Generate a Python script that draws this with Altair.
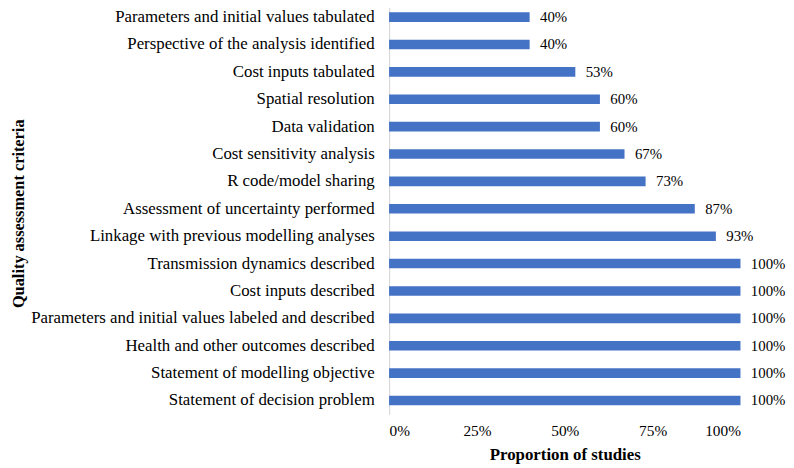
import altair as alt
import pandas as pd

criteria = [
    "Parameters and initial values tabulated",
    "Perspective of the analysis identified",
    "Cost inputs tabulated",
    "Spatial resolution",
    "Data validation",
    "Cost sensitivity analysis",
    "R code/model sharing",
    "Assessment of uncertainty performed",
    "Linkage with previous modelling analyses",
    "Transmission dynamics described",
    "Cost inputs described",
    "Parameters and initial values labeled and described",
    "Health and other outcomes described",
    "Statement of modelling objective",
    "Statement of decision problem",
]
percent = [40, 40, 53, 60, 60, 67, 73, 87, 93, 100, 100, 100, 100, 100, 100]
x_ticks = [0, 0.25, 0.5, 0.75, 1.0]

df = pd.DataFrame({"criterion": criteria, "share": [p / 100 for p in percent]})

FONT = "'Liberation Serif', 'Times New Roman', Times, serif"

y_enc = alt.Y(
    "criterion:N",
    sort=criteria,
    scale=alt.Scale(range=[-7, 408], paddingInner=0.65, paddingOuter=0.325),
    axis=alt.Axis(
        title="Quality assessment criteria",
        titleFont=FONT,
        titleFontSize=16.5,
        titleFontWeight="bold",
        titleColor="black",
        titleX=-366,
        titleY=205,
        labelFont=FONT,
        labelFontSize=17,
        labelColor="black",
        labelPadding=15,
        labelLimit=400,
        ticks=False,
        domain=True,
        domainColor="#D9D9D9",
        domainWidth=1.2,
        grid=False,
    ),
)

x_enc = alt.X(
    "share:Q",
    scale=alt.Scale(domain=[0, 1], nice=False),
    axis=alt.Axis(
        title="Proportion of studies",
        titleFont=FONT,
        titleFontSize=17,
        titleFontWeight="bold",
        titleColor="black",
        titlePadding=7,
        labelFont=FONT,
        labelFontSize=15.5,
        labelColor="black",
        labelPadding=10,
        values=x_ticks,
        format=".0%",
        ticks=False,
        domain=False,
        grid=False,
    ),
)

bars = alt.Chart(df).mark_bar(color="#4472C4").encode(x=x_enc, y=y_enc)

labels = alt.Chart(df).mark_text(
    align="left", baseline="middle", dx=10.5, font=FONT, fontSize=15, color="black"
).encode(
    x=alt.X("share:Q"),
    y=alt.Y("criterion:N", sort=criteria),
    text=alt.Text("share:Q", format=".0%"),
)

chart = (
    alt.layer(bars, labels)
    .properties(
        width=355,
        height=408,
        autosize=alt.AutoSizeParams(type="none"),
        padding={"left": 385, "top": 0, "right": 46, "bottom": 52},
        background="white",
    )
    .configure(font=FONT)
    .configure_view(stroke=None)
)

chart.save("out.html", embed_options={"renderer": "svg", "actions": False})
